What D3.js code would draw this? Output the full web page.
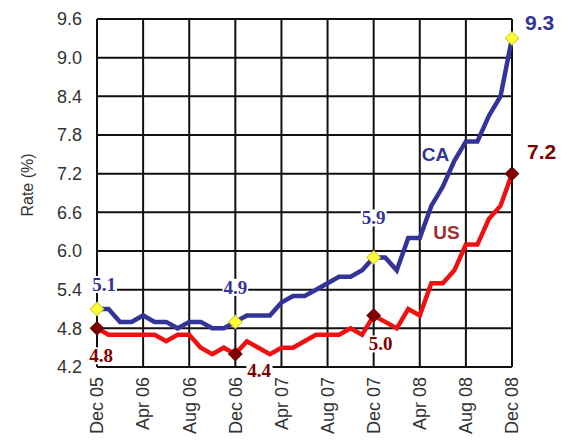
<!DOCTYPE html>
<html>
<head>
<meta charset="utf-8">
<script src="https://cdn.jsdelivr.net/npm/d3@7"></script>
<style>
  html, body { margin: 0; padding: 0; background: #fff; }
  svg { display: block; }
</style>
</head>
<body>
<svg id="chart" width="572" height="441"></svg>
<script>
const months = [
  "Dec 05", "Jan 06", "Feb 06", "Mar 06", "Apr 06", "May 06", "Jun 06", "Jul 06", "Aug 06",
  "Sep 06", "Oct 06", "Nov 06", "Dec 06", "Jan 07", "Feb 07", "Mar 07", "Apr 07", "May 07",
  "Jun 07", "Jul 07", "Aug 07", "Sep 07", "Oct 07", "Nov 07", "Dec 07", "Jan 08", "Feb 08",
  "Mar 08", "Apr 08", "May 08", "Jun 08", "Jul 08", "Aug 08", "Sep 08", "Oct 08", "Nov 08", "Dec 08"
];
const caRate = [
  5.1, 5.1, 4.9, 4.9, 5.0, 4.9, 4.9, 4.8, 4.9, 4.9, 4.8, 4.8, 4.9,
  5.0, 5.0, 5.0, 5.2, 5.3, 5.3, 5.4, 5.5, 5.6, 5.6, 5.7, 5.9,
  5.9, 5.7, 6.2, 6.2, 6.7, 7.0, 7.4, 7.7, 7.7, 8.1, 8.4, 9.3
];
const usRate = [
  4.8, 4.7, 4.7, 4.7, 4.7, 4.7, 4.6, 4.7, 4.7, 4.5, 4.4, 4.5, 4.4,
  4.6, 4.5, 4.4, 4.5, 4.5, 4.6, 4.7, 4.7, 4.7, 4.8, 4.7, 5.0,
  4.9, 4.8, 5.1, 5.0, 5.5, 5.5, 5.7, 6.1, 6.1, 6.5, 6.7, 7.2
];
const xTicks = ["Dec 05", "Apr 06", "Aug 06", "Dec 06", "Apr 07", "Aug 07", "Dec 07", "Apr 08", "Aug 08", "Dec 08"];
const yTicks = [4.2, 4.8, 5.4, 6.0, 6.6, 7.2, 7.8, 8.4, 9.0, 9.6];
const markedMonths = ["Dec 05", "Dec 06", "Dec 07", "Dec 08"];

(function () {
    const svg = d3.select("#chart");
    const margin = { top: 19, right: 60, bottom: 74, left: 97 };
    const W = 572 - margin.left - margin.right;
    const H = 441 - margin.top - margin.bottom;

    const x = d3.scalePoint().domain(months).range([0, W]);
    const y = d3.scaleLinear().domain([4.2, 9.6]).range([H, 0]);

    const g = svg.append("g")
        .attr("transform", `translate(${margin.left},${margin.top})`);

    // grid
    g.append("g").selectAll("line").data(yTicks).join("line")
        .attr("x1", 0).attr("x2", W)
        .attr("y1", d => y(d)).attr("y2", d => y(d))
        .attr("stroke", "#111").attr("stroke-width", 2);
    g.append("g").selectAll("line").data(xTicks).join("line")
        .attr("x1", d => x(d)).attr("x2", d => x(d))
        .attr("y1", 0).attr("y2", H)
        .attr("stroke", "#111").attr("stroke-width", 2);

    // y tick labels
    g.append("g").selectAll("text").data(yTicks).join("text")
        .attr("x", -15).attr("y", d => y(d)).attr("dy", "0.35em")
        .attr("text-anchor", "end")
        .style("font", "18px 'Liberation Sans', Arial, sans-serif")
        .attr("fill", "#333")
        .text(d => d.toFixed(1));

    // x tick labels
    g.append("g").selectAll("text").data(xTicks).join("text")
        .attr("transform", d => `translate(${x(d)},${H + 10}) rotate(-90)`)
        .attr("text-anchor", "end").attr("dy", "0.35em")
        .style("font", "18px 'Liberation Sans', Arial, sans-serif")
        .attr("fill", "#333")
        .text(d => d);

    g.append("text")
        .attr("transform", "rotate(-90)")
        .attr("x", -166).attr("y", -64)
        .attr("text-anchor", "middle")
        .style("font", "16px 'Liberation Sans', Arial, sans-serif")
        .attr("fill", "#333")
        .text("Rate (%)");

    const line = d3.line().x((d, i) => x(months[i])).y(d => y(d));

    g.append("path").datum(usRate)
        .attr("d", line).attr("fill", "none")
        .attr("stroke", "#ee1111").attr("stroke-width", 4.5);
    g.append("path").datum(caRate)
        .attr("d", line).attr("fill", "none")
        .attr("stroke", "#333399").attr("stroke-width", 4.5);

    const diamond = d3.symbol().type(d3.symbolSquare).size(90);
    function markers(values, fill, stroke) {
        g.append("g").selectAll("path").data(markedMonths).join("path")
            .attr("d", diamond)
            .attr("transform", m => `translate(${x(m)},${y(values[months.indexOf(m)])}) rotate(45)`)
            .attr("fill", fill).attr("stroke", stroke).attr("stroke-width", 1);
    }
    markers(caRate, "#ffff33", "#cccc33");
    markers(usRate, "#800000", "#660000");

    // value labels with white backing
    function label(series, m, dx, dy, color, anchor, font) {
        const v = series[months.indexOf(m)];
        const t = g.append("text")
            .attr("x", x(m) + dx).attr("y", y(v) + dy)
            .attr("text-anchor", anchor)
            .style("font", font)
            .attr("fill", color)
            .text(v.toFixed(1));
        const b = t.node().getBBox();
        g.insert("rect", () => t.node())
            .attr("x", b.x - 1).attr("y", b.y + 2)
            .attr("width", b.width + 2).attr("height", b.height - 4)
            .attr("fill", "#fff");
    }
    const small = "bold 19px 'Liberation Serif', 'Times New Roman', serif";
    const big = "bold 21px 'Liberation Sans', Arial, sans-serif";
    label(caRate, "Dec 05", 7, -18, "#333399", "middle", small);
    label(caRate, "Dec 06", 0, -28, "#333399", "middle", small);
    label(caRate, "Dec 07", 0, -33, "#333399", "middle", small);
    label(caRate, "Dec 08", 13, -8, "#333399", "start", big);
    label(usRate, "Dec 05", 4, 34, "#800000", "middle", small);
    label(usRate, "Dec 06", 12, 23, "#800000", "start", small);
    label(usRate, "Dec 07", 7, 35, "#800000", "middle", small);
    label(usRate, "Dec 08", 15, -15, "#800000", "start", big);

    // series names
    g.append("text")
        .attr("x", x("Jun 08") - 21).attr("y", y(caRate[months.indexOf("Jun 08")]) - 26)
        .style("font", "bold 19px 'Liberation Sans', Arial, sans-serif")
        .attr("fill", "#333399")
        .text("CA");
    g.append("text")
        .attr("x", x("Jul 08") - 21).attr("y", y(usRate[months.indexOf("Jul 08")]) - 31)
        .style("font", "bold 19px 'Liberation Sans', Arial, sans-serif")
        .attr("fill", "#993333")
        .text("US");
})();
</script>
</body>
</html>
